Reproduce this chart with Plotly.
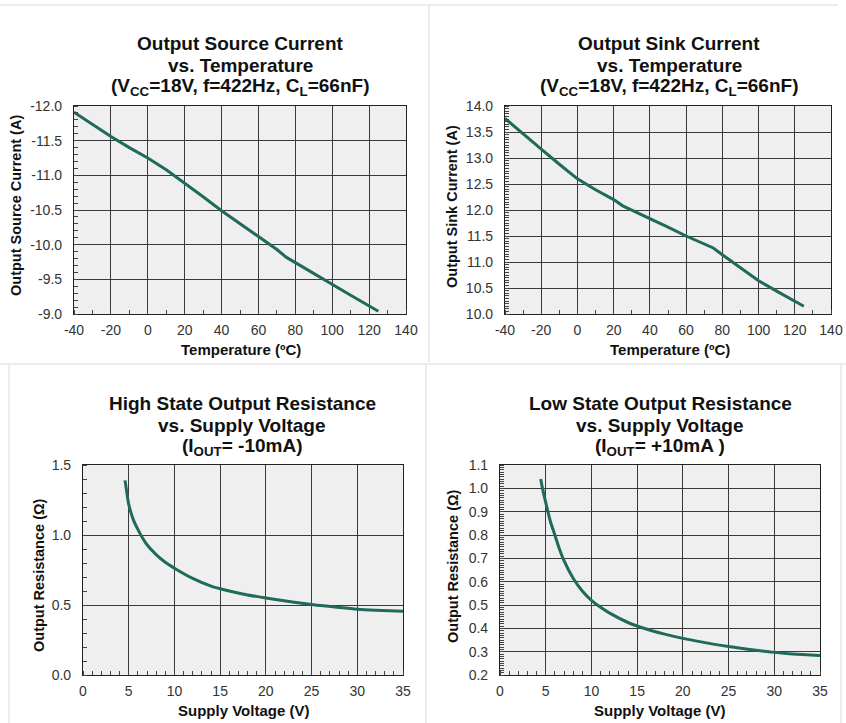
import plotly.graph_objects as go

# ---- data ----
temp_source = [-40, -30, -20, -10, 0, 10, 20, 30, 40, 50, 60, 70, 75, 80, 90, 100, 110, 125]
source_current = [-11.91, -11.73, -11.56, -11.40, -11.25, -11.08, -10.89, -10.69, -10.49, -10.30,
                  -10.12, -9.93, -9.82, -9.74, -9.58, -9.42, -9.27, -9.04]

temp_sink = [-40, -30, -20, -10, 0, 10, 20, 25, 30, 40, 50, 60, 70, 75, 80, 90, 100, 110, 125]
sink_current = [13.76, 13.46, 13.17, 12.88, 12.60, 12.39, 12.20, 12.08, 12.00, 11.83, 11.67,
                11.50, 11.35, 11.27, 11.14, 10.89, 10.64, 10.44, 10.15]

v_high = [4.6, 4.8, 5.0, 5.5, 6.0, 6.5, 7, 8, 9, 10, 12, 14, 16, 18, 20, 22, 25, 28, 30, 32, 35]
r_high = [1.39, 1.30, 1.22, 1.11, 1.04, 0.98, 0.93, 0.86, 0.805, 0.763, 0.69, 0.635, 0.60,
          0.572, 0.55, 0.53, 0.503, 0.482, 0.47, 0.463, 0.456]

v_low = [4.45, 4.7, 5.0, 5.5, 6.0, 6.5, 7, 8, 9, 10, 11, 12, 14, 16, 18, 20, 22, 25, 28, 30, 32, 35]
r_low = [1.04, 0.99, 0.94, 0.86, 0.80, 0.74, 0.69, 0.615, 0.56, 0.52, 0.49, 0.465, 0.425, 0.397,
         0.375, 0.357, 0.342, 0.322, 0.306, 0.297, 0.29, 0.284]

temp_ticks = [-40, -20, 0, 20, 40, 60, 80, 100, 120, 140]
temp_labels = ["-40", "-20", "0", "20", "40", "60", "80", "100", "120", "140"]
volt_ticks = [0, 5, 10, 15, 20, 25, 30, 35]
volt_labels = ["0", "5", "10", "15", "20", "25", "30", "35"]
source_ticks = [-12.0, -11.5, -11.0, -10.5, -10.0, -9.5, -9.0]
source_labels = ["-12.0", "-11.5", "-11.0", "-10.5", "-10.0", "-9.5", "-9.0"]
sink_ticks = [10.0, 10.5, 11.0, 11.5, 12.0, 12.5, 13.0, 13.5, 14.0]
sink_labels = ["10.0", "10.5", "11.0", "11.5", "12.0", "12.5", "13.0", "13.5", "14.0"]
rhigh_ticks = [0.0, 0.5, 1.0, 1.5]
rhigh_labels = ["0.0", "0.5", "1.0", "1.5"]
rlow_ticks = [0.2, 0.3, 0.4, 0.5, 0.6, 0.7, 0.8, 0.9, 1.0, 1.1]
rlow_labels = ["0.2", "0.3", "0.4", "0.5", "0.6", "0.7", "0.8", "0.9", "1.0", "1.1"]

titles = [
    ["Output Source Current", "vs. Temperature", "(V<sub>CC</sub>=18V, f=422Hz, C<sub>L</sub>=66nF)"],
    ["Output Sink Current", "vs. Temperature", "(V<sub>CC</sub>=18V, f=422Hz, C<sub>L</sub>=66nF)"],
    ["High State Output Resistance", "vs. Supply Voltage", "(I<sub>OUT</sub>= -10mA)"],
    ["Low State Output Resistance", "vs. Supply Voltage", "(I<sub>OUT</sub>= +10mA )"],
]
x_titles = ["Temperature (ºC)", "Temperature (ºC)", "Supply Voltage (V)", "Supply Voltage (V)"]
y_titles = ["Output Source Current (A)", "Output Sink Current (A)",
            "Output Resistance (Ω)", "Output Resistance (Ω)"]

# ---- layout geometry (pixels) ----
W, H = 846, 723
FONT = "Liberation Sans, Arial, Helvetica, sans-serif"
LINE_COLOR = "#1f6a5a"
GRID = "#3a3a3a"
BG = "#efefef"

def px_x(x):
    return x / W

def px_y(y):
    return 1 - y / H

# plot rectangles: left, right, top, bottom
rects = [
    (74, 406, 106, 314),
    (505, 831, 106, 314),
    (83, 403, 465, 675),
    (500, 820, 465, 675),
]

fig = go.Figure()

series = [
    (temp_source, source_current, "linear"),
    (temp_sink, sink_current, "linear"),
    (v_high, r_high, "spline"),
    (v_low, r_low, "spline"),
]

for i, (xs, ys, shape) in enumerate(series):
    sfx = "" if i == 0 else str(i + 1)
    fig.add_trace(go.Scatter(
        x=xs, y=ys, mode="lines", xaxis="x" + sfx, yaxis="y" + sfx,
        line=dict(color=LINE_COLOR, width=3, shape=shape, smoothing=0.8),
        showlegend=False, hoverinfo="skip",
    ))

x_cfg = [
    dict(range=[-40, 140], tickvals=temp_ticks, ticktext=temp_labels, minor_dtick=10, tick0=-40),
    dict(range=[-40, 140], tickvals=temp_ticks, ticktext=temp_labels, minor_dtick=10, tick0=-40),
    dict(range=[0, 35], tickvals=volt_ticks, ticktext=volt_labels, minor_dtick=1, tick0=0),
    dict(range=[0, 35], tickvals=volt_ticks, ticktext=volt_labels, minor_dtick=1, tick0=0),
]
y_cfg = [
    dict(range=[-9, -12], tickvals=source_ticks, ticktext=source_labels, tick0=-12, minor_dtick=0.1),
    dict(range=[10, 14], tickvals=sink_ticks, ticktext=sink_labels, tick0=10, minor_dtick=0.05),
    dict(range=[0, 1.5], tickvals=rhigh_ticks, ticktext=rhigh_labels, tick0=0, minor_dtick=0.1),
    dict(range=[0.2, 1.1], tickvals=rlow_ticks, ticktext=rlow_labels, tick0=0.2, minor_dtick=0.01),
]

tick_font = dict(family=FONT, size=14, color="#333333")
layout = dict(
    template="none",
    width=W, height=H, margin=dict(l=0, r=0, t=0, b=0, pad=0, autoexpand=False),
    paper_bgcolor="white", plot_bgcolor=BG,
    font=dict(family=FONT, color="#111111"),
)

for i, (l, r, t, b) in enumerate(rects):
    sfx = "" if i == 0 else str(i + 1)
    xc, yc = x_cfg[i], y_cfg[i]
    layout["xaxis" + sfx] = dict(
        domain=[px_x(l), px_x(r)], anchor="y" + sfx, range=xc["range"], automargin=False,
        tickmode="array", tickvals=xc["tickvals"], ticktext=xc["ticktext"],
        ticks="outside", ticklen=0, showgrid=True,
        gridcolor=GRID, gridwidth=1.2, zeroline=False, showline=True,
        linecolor="#222222", linewidth=1.2, mirror=True, tickfont=tick_font,
        ticklabelstandoff=3,
        minor=dict(tick0=xc["tick0"], dtick=xc["minor_dtick"], ticks="inside", ticklen=4,
                   tickcolor="#444444", tickwidth=1, showgrid=False),
    )
    layout["yaxis" + sfx] = dict(
        domain=[px_y(b), px_y(t)], anchor="x" + sfx, range=yc["range"], automargin=False,
        tickmode="array", tickvals=yc["tickvals"], ticktext=yc["ticktext"],
        ticks="outside", ticklen=0,
        showgrid=True, gridcolor=GRID, gridwidth=1.2, zeroline=False,
        showline=True, linecolor="#222222", linewidth=1.2, mirror=True,
        tickfont=tick_font, ticklabelstandoff=8,
        minor=dict(tick0=yc["tick0"], dtick=yc["minor_dtick"], ticks="inside",
                   ticklen=4, tickcolor="#444444", tickwidth=1, showgrid=False),
    )

fig.update_layout(**layout)

# ---- titles and axis titles as annotations ----
title_pos = [
    (240, [43, 65, 87]),
    (669, [43, 65, 87]),
    (242, [403, 425, 447]),
    (660, [403, 425, 447]),
]
xt_pos = [(241, 349), (670, 349), (243, 710), (659, 710)]
yt_pos = [(16, 206), (452, 207), (39, 575), (453, 566)]

annotations = []
for i in range(4):
    cx, ys = title_pos[i]
    for line, yy in zip(titles[i], ys):
        annotations.append(dict(
            text="<b>" + line + "</b>", x=px_x(cx), y=px_y(yy), xref="paper", yref="paper",
            showarrow=False, xanchor="center", yanchor="middle",
            font=dict(family=FONT, size=19, color="#111111"),
        ))
    annotations.append(dict(
        text="<b>" + x_titles[i] + "</b>", x=px_x(xt_pos[i][0]), y=px_y(xt_pos[i][1]),
        xref="paper", yref="paper", showarrow=False, xanchor="center", yanchor="middle",
        font=dict(family=FONT, size=15, color="#111111"),
    ))
    annotations.append(dict(
        text="<b>" + y_titles[i] + "</b>", x=px_x(yt_pos[i][0]), y=px_y(yt_pos[i][1]),
        xref="paper", yref="paper", showarrow=False, xanchor="center", yanchor="middle",
        textangle=-90, font=dict(family=FONT, size=14.5, color="#111111"),
    ))

# ---- card separator lines ----
sep = "#e6e6e6"
shapes = [
    dict(type="line", xref="paper", yref="paper", x0=0, x1=px_x(838), y0=px_y(5), y1=px_y(5),
         line=dict(color=sep, width=1.5)),
    dict(type="line", xref="paper", yref="paper", x0=0, x1=1, y0=px_y(364), y1=px_y(364),
         line=dict(color=sep, width=1.5)),
    dict(type="line", xref="paper", yref="paper", x0=px_x(429), x1=px_x(429), y0=px_y(5), y1=px_y(362),
         line=dict(color=sep, width=1.5)),
    dict(type="line", xref="paper", yref="paper", x0=px_x(426), x1=px_x(426), y0=px_y(364), y1=0,
         line=dict(color=sep, width=1.5)),
    dict(type="line", xref="paper", yref="paper", x0=px_x(9), x1=px_x(9), y0=px_y(364), y1=0,
         line=dict(color=sep, width=1.5)),
    dict(type="line", xref="paper", yref="paper", x0=px_x(841), x1=px_x(841), y0=px_y(364), y1=0,
         line=dict(color=sep, width=1.5)),
]

fig.update_layout(annotations=annotations, shapes=shapes)
fig.write_html(
    "out.html",
    config={"displayModeBar": False},
    post_script="document.body.style.margin='0';document.body.style.overflow='hidden';",
)
